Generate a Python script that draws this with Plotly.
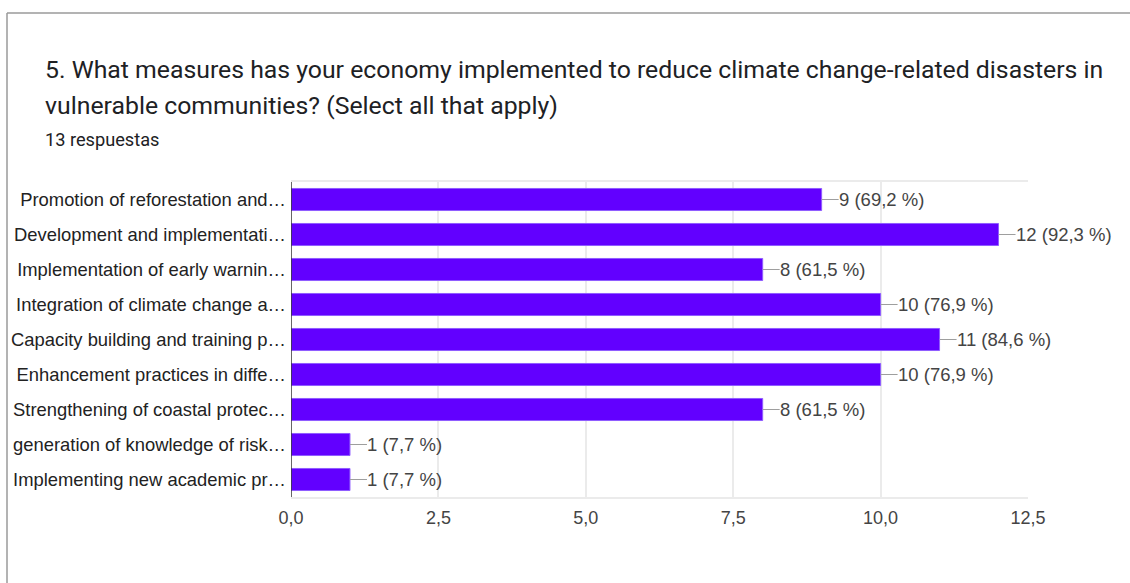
import plotly.graph_objects as go

categories = [
    "Promotion of reforestation and…",
    "Development and implementati…",
    "Implementation of early warnin…",
    "Integration of climate change a…",
    "Capacity building and training p…",
    "Enhancement practices in diffe…",
    "Strengthening of coastal protec…",
    "generation of knowledge of risk…",
    "Implementing new academic pr…",
]
counts = [9, 12, 8, 10, 11, 10, 8, 1, 1]
percents = ["69,2 %", "92,3 %", "61,5 %", "76,9 %", "84,6 %", "76,9 %", "61,5 %", "7,7 %", "7,7 %"]
tick_vals = [0, 2.5, 5, 7.5, 10, 12.5]
tick_text = ["0,0", "2,5", "5,0", "7,5", "10,0", "12,5"]
title_line1 = "5. What measures has your economy implemented to reduce climate change-related disasters in"
title_line2 = "vulnerable communities? (Select all that apply)"
subtitle = "13 respuestas"

W, H = 1130, 583
L, R, T, B = 291, 1130 - 1028, 182, 583 - 497
pw, ph = W - L - R, H - T - B

def px(x):
    return (x - L) / pw

def py(y):
    return 1 - (y - T) / ph

FONT = "Liberation Sans, Arial"

fig = go.Figure()
fig.add_trace(go.Bar(
    x=counts, y=categories, orientation="h",
    marker=dict(color="#6200ff", line=dict(color="#8f5cff", width=1)),
    width=0.63, hoverinfo="skip",
))

annotations = []
for c, cat, p in zip(counts, categories, percents):
    annotations.append(dict(
        x=c, y=cat, xref="x", yref="y",
        text=f"{c} ({p})", showarrow=True, arrowhead=0, arrowwidth=1.2,
        arrowcolor="#9e9e9e", ax=17, ay=0, xanchor="left", yanchor="middle",
        standoff=0, startstandoff=0, borderpad=0, borderwidth=0,
        font=dict(family=FONT, size=18.5, color="#444444"),
    ))

annotations += [
    dict(x=px(43), y=py(70), xref="paper", yref="paper", text=title_line1,
         showarrow=False, xanchor="left", yanchor="middle",
         font=dict(family="Roboto", size=24.8, color="#202124")),
    dict(x=px(43), y=py(105), xref="paper", yref="paper", text=title_line2,
         showarrow=False, xanchor="left", yanchor="middle",
         font=dict(family="Roboto", size=24.8, color="#202124")),
    dict(x=px(43), y=py(139), xref="paper", yref="paper", text=subtitle,
         showarrow=False, xanchor="left", yanchor="middle",
         font=dict(family="Roboto", size=18.2, color="#202124")),
]

shapes = [
    dict(type="line", xref="paper", yref="paper", x0=px(7), x1=px(W + 5), y0=py(13), y1=py(13),
         line=dict(color="#9a9a9a", width=1.5)),
    dict(type="line", xref="paper", yref="paper", x0=px(7), x1=px(7), y0=py(13), y1=py(H + 5),
         line=dict(color="#9a9a9a", width=1.5)),
]

fig.update_layout(
    width=W, height=H,
    margin=dict(l=L, r=R, t=T, b=B, pad=0),
    paper_bgcolor="white", plot_bgcolor="white",
    showlegend=False,
    bargap=0.37,
    annotations=annotations,
    shapes=shapes,
    xaxis=dict(range=[0, 12.5], tickvals=tick_vals, ticktext=tick_text,
               showgrid=True, gridcolor="#ebebeb", gridwidth=1.5,
               showline=True, mirror=True, linecolor="#ebebeb", linewidth=1.5,
               zeroline=False, ticks="", ticklen=0, ticklabelstandoff=4,
               tickfont=dict(family=FONT, size=18, color="#444444"),
               fixedrange=True),
    yaxis=dict(autorange="reversed", showgrid=False, zeroline=False,
               showline=False, ticks="", ticklabelstandoff=4,
               tickfont=dict(family=FONT, size=18.4, color="#222222"),
               fixedrange=True),
)
fig.add_shape(type="line", xref="x", yref="paper", x0=0, x1=0, y0=0, y1=1,
              line=dict(color="#333333", width=1.5), layer="above")

fig.write_html("out.html", config={"displayModeBar": False},
               post_script="document.body.style.margin='0';")
